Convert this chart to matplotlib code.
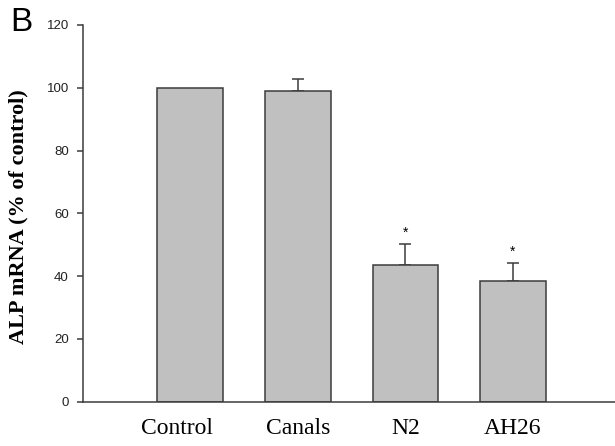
import matplotlib
matplotlib.use('Agg')
import matplotlib.pyplot as plt
import matplotlib.transforms as mtransforms
import numpy as np

# ALP mRNA expression, % of control
groups = ['Control', 'Canals', 'N2', 'AH26']
alp = [100, 98.9, 43.5, 38.4]
sem = [0, 3.8, 6.7, 5.9]
signif = [False, False, True, True]   # marked with *

x = np.arange(len(groups))

fig = plt.figure(figsize=(6.15, 4.46), dpi=100)
ax = fig.add_axes([0.1345, 0.0993, 0.8655, 0.8447])

edge = '#3c3c3c'
ax.bar(x, alp, width=0.61, color='#c0c0c0', edgecolor=edge, linewidth=1.1, zorder=2)
# one-sided error bars, SigmaPlot style (skip zero ones)
has_err = np.array(sem) > 0
ax.errorbar(x[has_err], np.array(alp)[has_err],
            yerr=[np.zeros(has_err.sum()), np.array(sem)[has_err]], fmt='none',
            ecolor=edge, elinewidth=1.1, capsize=4, capthick=1.1, zorder=1)

for xi, v, e, s in zip(x, alp, sem, signif):
    if s:
        ax.annotate('*', xy=(xi, v + e), xytext=(0, 3), textcoords='offset points',
                    ha='center', va='bottom', fontsize=10, family='Liberation Sans')

ax.set_xlim(-1.0, 3.95)
ax.set_ylim(0, 120)
ax.set_yticks(np.arange(0, 121, 20))
ax.set_xticks(x)
ax.set_xticklabels(groups, family='Liberation Serif', fontsize=17)
ax.tick_params(axis='x', length=0, pad=12)
ax.tick_params(axis='y', length=4, width=1.1, color=edge, pad=6, labelsize=9.5,
               labelcolor='#222222')
for lab in ax.get_yticklabels():
    lab.set_family('Liberation Sans')

# the Control label sits a little left of its bar in the original
lab0 = ax.get_xticklabels()[0]
lab0.set_transform(lab0.get_transform() +
                   mtransforms.ScaledTranslation(-0.13, 0, fig.dpi_scale_trans))

for side in ['top', 'right']:
    ax.spines[side].set_visible(False)
for side in ['left', 'bottom']:
    ax.spines[side].set_color(edge)
    ax.spines[side].set_linewidth(1.1)

ax.set_ylabel('ALP mRNA (% of control)', family='Liberation Serif', fontweight='bold',
              fontsize=16)
ax.yaxis.set_label_coords(-0.101, 0.49)

fig.text(0.016, 0.984, 'B', family='Liberation Sans', fontsize=24, ha='left', va='top')

plt.savefig('out.png', dpi=100)
